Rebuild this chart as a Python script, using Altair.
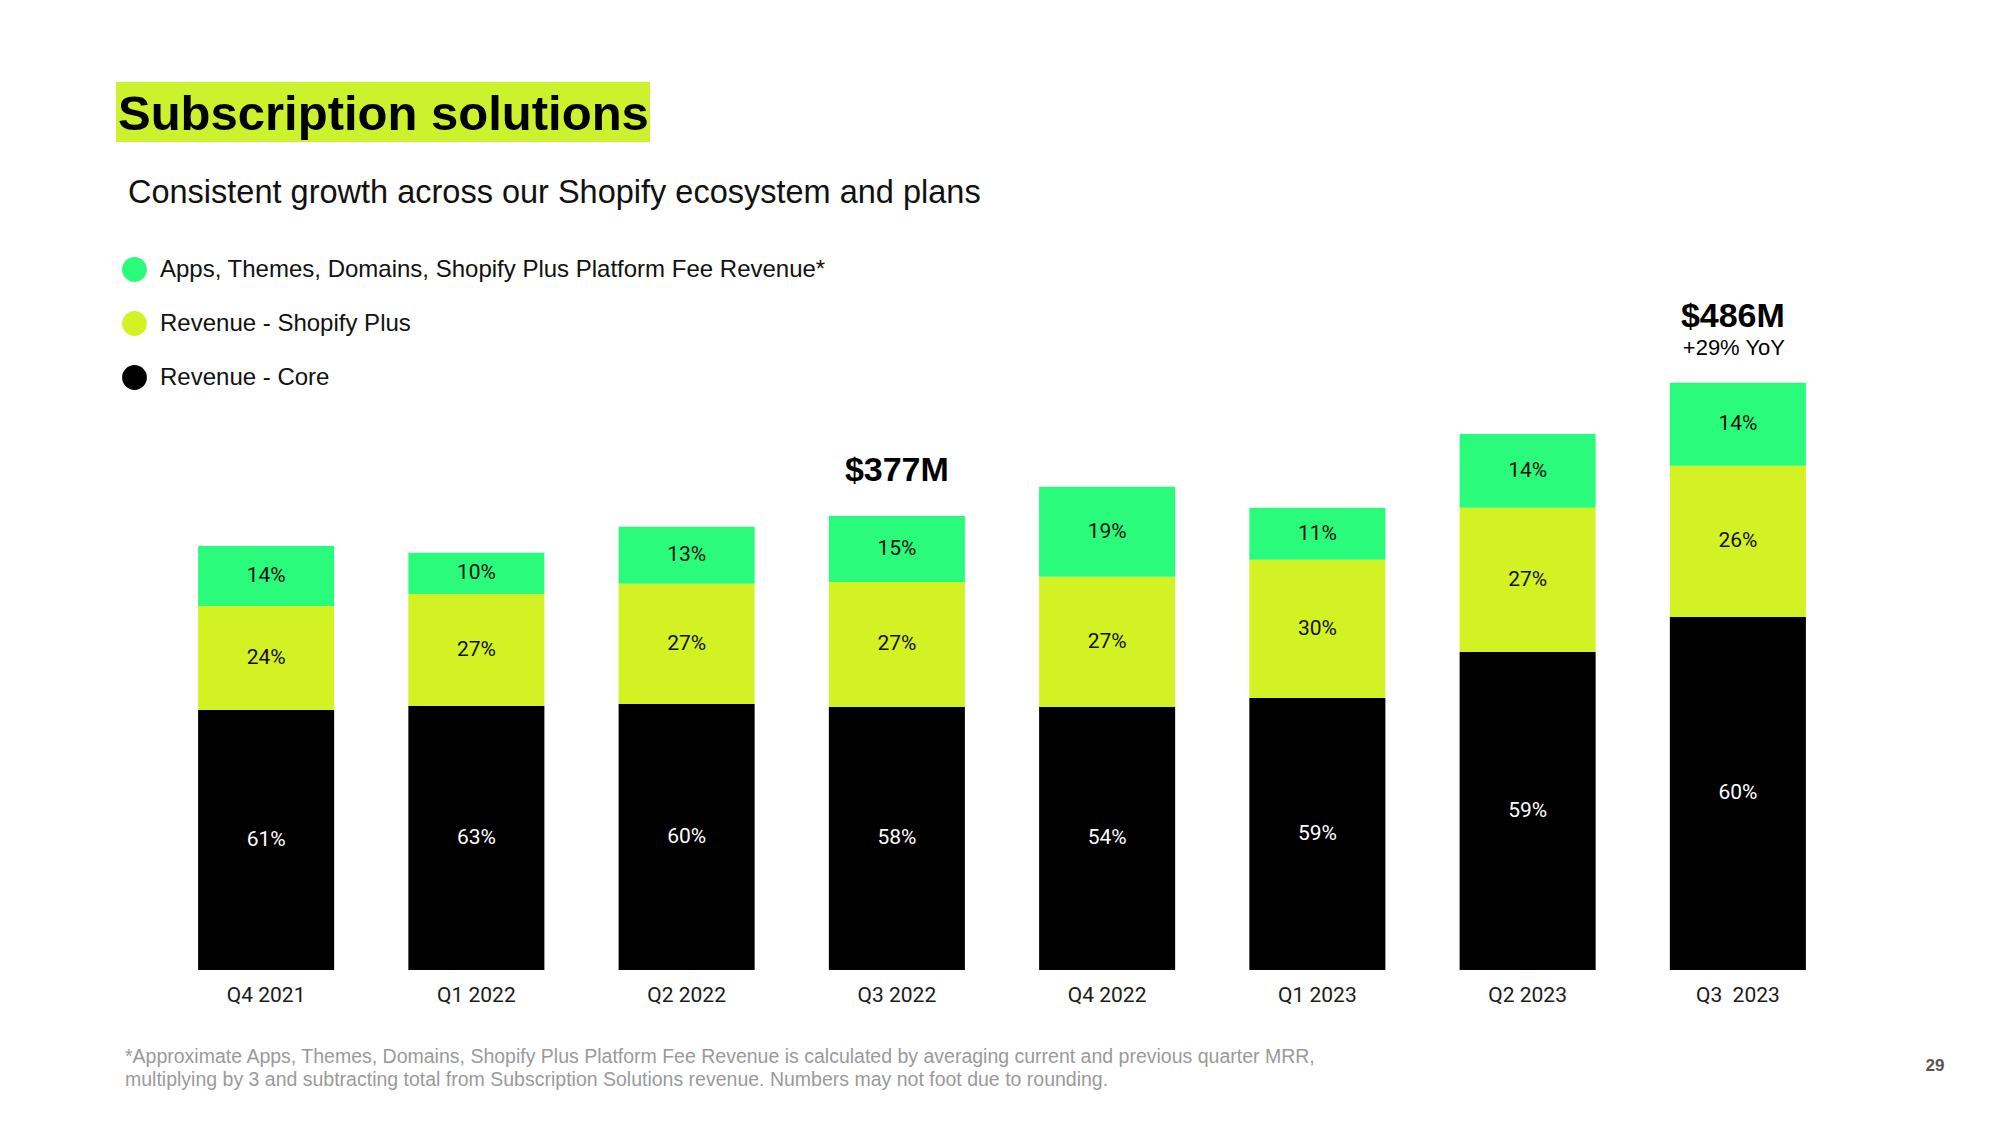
import altair as alt
import pandas as pd

quarters = ["Q4 2021", "Q1 2022", "Q2 2022", "Q3 2022", "Q4 2022", "Q1 2023", "Q2 2023", "Q3 \u00a02023"]
series = ["Apps, Themes, Domains, Shopify Plus Platform Fee Revenue*",
          "Revenue - Shopify Plus", "Revenue - Core"]
core = [215.5, 218.9, 220.5, 218.0, 218.0, 225.5, 263.6, 292.6]
plus = [86.2, 92.8, 99.5, 103.6, 107.8, 114.4, 119.4, 125.2]
apps = [49.7, 34.0, 47.3, 54.7, 74.6, 43.1, 61.3, 68.8]
core_pct = ["61%", "63%", "60%", "58%", "54%", "59%", "59%", "60%"]
plus_pct = ["24%", "27%", "27%", "27%", "27%", "30%", "27%", "26%"]
apps_pct = ["14%", "10%", "13%", "15%", "19%", "11%", "14%", "14%"]
colors = ["#2BFB7B", "#D3F224", "#000000"]
total_quarters = ["Q3 2022", "Q3 \u00a02023"]
total_labels = ["$377M", "$486M"]
yoy_labels = ["", "+29% YoY"]

title_text = "Subscription solutions"
subtitle_text = "Consistent growth across our Shopify ecosystem and plans"
footnote_lines = [
    "*Approximate Apps, Themes, Domains, Shopify Plus Platform Fee Revenue is calculated by averaging current and previous quarter MRR,",
    "multiplying by 3 and subtracting total from Subscription Solutions revenue. Numbers may not foot due to rounding.",
]
page_number = "29"

rows = []
for i, q in enumerate(quarters):
    rows.append({"quarter": q, "series": series[2], "value": core[i], "pct": core_pct[i], "order": 0})
    rows.append({"quarter": q, "series": series[1], "value": plus[i], "pct": plus_pct[i], "order": 1})
    rows.append({"quarter": q, "series": series[0], "value": apps[i], "pct": apps_pct[i], "order": 2})
df = pd.DataFrame(rows)

tot_rows = []
for q, lab, yoy in zip(total_quarters, total_labels, yoy_labels):
    i = quarters.index(q)
    tot_rows.append({"quarter": q, "total": core[i] + plus[i] + apps[i], "label": lab, "yoy": yoy})
df_tot = pd.DataFrame(tot_rows)

W, H = 1682, 724
YMAX = 600

x_enc = alt.X("quarter:N", sort=quarters,
              scale=alt.Scale(paddingInner=0.353, paddingOuter=0.1765),
              axis=alt.Axis(title=None, labelAngle=0, ticks=False, domain=False, grid=False,
                            labelPadding=14, labelFont="Roboto", labelFontSize=21,
                            labelColor="#1a1a1a", labelBaseline="top"))
y_scale = alt.Scale(domain=[0, YMAX])

base = alt.Chart(df).transform_stack(
    stack="value", groupby=["quarter"], as_=["y0", "y1"],
    sort=[alt.SortField("order", order="ascending")])

bars = base.mark_bar().encode(
    x=x_enc,
    y=alt.Y("y0:Q", scale=y_scale, axis=None),
    y2="y1:Q",
    color=alt.Color("series:N", scale=alt.Scale(domain=series, range=colors),
                    legend=alt.Legend(title=None, orient="none", legendX=-39, legendY=11,
                                      direction="vertical", symbolType="circle",
                                      symbolSize=616, symbolStrokeWidth=0, symbolOpacity=1,
                                      labelFont="Liberation Sans", labelFontSize=24,
                                      labelColor="#111111", labelLimit=1200,
                                      rowPadding=29, labelOffset=13, padding=0)),
)

pct_text = base.transform_calculate(mid="(datum.y0 + datum.y1) / 2").mark_text(
    font="Roboto", fontSize=21, align="center", baseline="middle").encode(
    x=alt.X("quarter:N", sort=quarters),
    y=alt.Y("mid:Q", scale=y_scale, axis=None),
    text="pct:N",
    color=alt.condition("datum.order == 0", alt.value("#ffffff"), alt.value("#111111")),
)

tot_base = alt.Chart(df_tot)
tot_only = tot_base.transform_filter("datum.yoy == ''").mark_text(
    font="Liberation Sans", fontWeight="bold", fontSize=34, baseline="alphabetic",
    align="center", dy=-35, color="#000000").encode(
    x=alt.X("quarter:N", sort=quarters), y=alt.Y("total:Q", scale=y_scale, axis=None), text="label:N")
tot_big = tot_base.transform_filter("datum.yoy != ''").mark_text(
    font="Liberation Sans", fontWeight="bold", fontSize=34, baseline="alphabetic",
    align="center", dx=-5, dy=-56, color="#000000").encode(
    x=alt.X("quarter:N", sort=quarters), y=alt.Y("total:Q", scale=y_scale, axis=None), text="label:N")
tot_yoy = tot_base.transform_filter("datum.yoy != ''").mark_text(
    font="Liberation Sans", fontSize=22, baseline="alphabetic",
    align="center", dx=-4, dy=-28, color="#000000").encode(
    x=alt.X("quarter:N", sort=quarters), y=alt.Y("total:Q", scale=y_scale, axis=None), text="yoy:N")

one = pd.DataFrame({"k": [0]})
highlight = alt.Chart(one).mark_rect(color="#CBF22C").encode(
    x=alt.value(-45), x2=alt.value(489), y=alt.value(-164), y2=alt.value(-104))
title = alt.Chart(one).mark_text(
    font="Liberation Sans", fontWeight="bold", fontSize=49, align="left",
    baseline="alphabetic", color="#000000").encode(
    x=alt.value(-43), y=alt.value(-116), text=alt.value(title_text))
subtitle = alt.Chart(one).mark_text(
    font="Liberation Sans", fontSize=32.5, align="left", baseline="alphabetic",
    color="#111111").encode(
    x=alt.value(-33), y=alt.value(-43), text=alt.value(subtitle_text))
footnote = alt.Chart(one).mark_text(
    font="Liberation Sans", fontSize=19.5, align="left", baseline="middle",
    lineHeight=23, color="#9a9a9a").encode(
    x=alt.value(-36), y=alt.value(811), text=alt.value(footnote_lines))
pagenum = alt.Chart(one).mark_text(
    font="Liberation Sans", fontWeight="bold", fontSize=17, align="center",
    baseline="middle", color="#555555").encode(
    x=alt.value(1774), y=alt.value(820), text=alt.value(page_number))

chart = alt.layer(
    highlight, title, subtitle, bars, pct_text, tot_only, tot_big, tot_yoy, footnote, pagenum
).properties(
    width=W, height=H,
    autosize=alt.AutoSizeParams(type="none"),
    padding={"left": 153, "top": 238, "right": 149, "bottom": 147},
    background="#ffffff",
).configure_view(stroke=None)

chart.save("out.html", embed_options={"renderer": "svg", "actions": False})
